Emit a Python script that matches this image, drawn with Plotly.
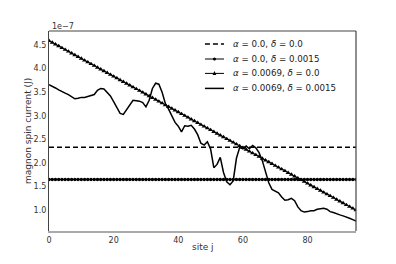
import plotly.graph_objects as go

# site index j
sites = list(range(96))

# magnon spin current, in units of 1e-7 J
current_a0_d0 = [2.335] * 96
current_a0_d15 = [1.652] * 96
current_a69_d0 = [
    4.590, 4.552, 4.514, 4.477, 4.439, 4.401, 4.363, 4.325, 4.288, 4.250,
    4.212, 4.174, 4.136, 4.099, 4.061, 4.023, 3.985, 3.947, 3.910, 3.872,
    3.834, 3.796, 3.758, 3.721, 3.683, 3.645, 3.607, 3.569, 3.532, 3.494,
    3.456, 3.418, 3.380, 3.343, 3.305, 3.267, 3.229, 3.191, 3.154, 3.116,
    3.078, 3.040, 3.002, 2.965, 2.927, 2.889, 2.851, 2.813, 2.776, 2.738,
    2.700, 2.662, 2.624, 2.587, 2.549, 2.511, 2.473, 2.435, 2.398, 2.360,
    2.322, 2.284, 2.246, 2.209, 2.171, 2.133, 2.095, 2.057, 2.020, 1.982,
    1.944, 1.906, 1.868, 1.831, 1.793, 1.755, 1.717, 1.679, 1.642, 1.604,
    1.566, 1.528, 1.490, 1.453, 1.415, 1.377, 1.339, 1.301, 1.264, 1.226,
    1.188, 1.150, 1.112, 1.075, 1.037, 0.999,
]
current_a69_d15 = [
    3.66, 3.63, 3.59, 3.55, 3.51, 3.48, 3.45, 3.40, 3.36, 3.37,
    3.39, 3.39, 3.41, 3.43, 3.45, 3.54, 3.58, 3.57, 3.50, 3.42,
    3.30, 3.17, 3.05, 3.03, 3.13, 3.24, 3.33, 3.32, 3.31, 3.28,
    3.19, 3.33, 3.58, 3.69, 3.67, 3.50, 3.26, 3.14, 3.00, 2.86,
    2.78, 2.66, 2.79, 2.78, 2.80, 2.72, 2.60, 2.42, 2.38, 2.45,
    2.30, 1.90, 1.97, 2.12, 1.80, 1.60, 1.54, 1.62, 2.10, 2.33,
    2.30, 2.36, 2.30, 2.37, 2.32, 2.22, 2.05, 1.82, 1.58, 1.44,
    1.40, 1.37, 1.28, 1.21, 1.22, 1.25, 1.20, 1.07, 0.99, 0.96,
    0.97, 0.99, 0.99, 1.02, 1.03, 1.04, 1.02, 0.97, 0.95, 0.92,
    0.90, 0.88, 0.86, 0.83, 0.80, 0.77,
]

labels = [
    "<i>α</i> = 0.0, <i>δ</i> = 0.0",
    "<i>α</i> = 0.0, <i>δ</i> = 0.0015",
    "<i>α</i> = 0.0069, <i>δ</i> = 0.0",
    "<i>α</i> = 0.0069, <i>δ</i> = 0.0015",
]

y_ticks = [1.0, 1.5, 2.0, 2.5, 3.0, 3.5, 4.0, 4.5]
x_ticks = [0, 20, 40, 60, 80]

FONT = "DejaVu Sans"

fig = go.Figure()

fig.add_trace(go.Scatter(
    x=sites, y=current_a0_d0, mode="lines", name=labels[0],
    line=dict(color="black", width=1.4, dash="5px,3px")))

fig.add_trace(go.Scatter(
    x=sites, y=current_a0_d15, mode="lines+markers", name=labels[1],
    line=dict(color="black", width=1),
    marker=dict(symbol="circle", size=3.5, color="black")))

fig.add_trace(go.Scatter(
    x=sites, y=current_a69_d0, mode="lines+markers", name=labels[2],
    line=dict(color="black", width=1),
    marker=dict(symbol="triangle-up", size=4.5, color="black")))

fig.add_trace(go.Scatter(
    x=sites, y=current_a69_d15, mode="lines", name=labels[3],
    line=dict(color="black", width=1.5)))

fig.update_layout(
    width=396, height=264,
    margin=dict(l=49, r=40, t=31, b=33),
    paper_bgcolor="white", plot_bgcolor="white",
    font=dict(family=FONT, size=8, color="#333"),
    showlegend=False,
)

fig.update_xaxes(
    range=[0, 95], tickvals=x_ticks, ticks="", showgrid=False, zeroline=False,
    showline=True, linecolor="#aaa", linewidth=2, automargin=False,
)
fig.update_yaxes(
    range=[0.559, 4.797], tickvals=y_ticks, tickformat=".1f", ticks="",
    showgrid=False, zeroline=False, automargin=False,
    showline=True, linecolor="#444", linewidth=1.2,
)

# top and right frame lines
fig.add_shape(type="line", xref="paper", yref="paper", x0=0, x1=1, y0=1, y1=1,
              line=dict(color="#444", width=1.2))
fig.add_shape(type="line", xref="paper", yref="paper", x0=1, x1=1, y0=0, y1=1,
              line=dict(color="#444", width=1.2))

# axis titles
fig.add_annotation(text="site j", xref="paper", yref="paper", x=0.5, y=0,
                   yshift=-16, showarrow=False, yanchor="middle",
                   font=dict(size=9, color="#333"))
fig.add_annotation(text="magnon spin current (J)", xref="paper", yref="paper",
                   x=0, y=0.5, xshift=-21, textangle=-90, showarrow=False,
                   xanchor="center", font=dict(size=9, color="#333"))

# offset text for the y axis
fig.add_annotation(text="1e\u22127", xref="paper", yref="paper", x=0, y=1,
                   xanchor="left", yanchor="bottom", showarrow=False,
                   font=dict(size=8, color="#333"), xshift=1, yshift=-2)

# legend drawn by hand (matplotlib spacing)
leg_x0, leg_x1, leg_tx = 0.508, 0.570, 0.593
leg_rows = [0.935, 0.86, 0.788, 0.713]
leg_dash = ["5px,3px", "solid", "solid", "solid"]
leg_w = [1.4, 1.0, 1.0, 1.5]
for lab, ry, dsh, w in zip(labels, leg_rows, leg_dash, leg_w):
    fig.add_shape(type="line", xref="paper", yref="paper",
                  x0=leg_x0, x1=leg_x1, y0=ry, y1=ry,
                  line=dict(color="black", width=w, dash=dsh))
    fig.add_annotation(text=lab, xref="paper", yref="paper", x=leg_tx, y=ry,
                       xanchor="left", yanchor="middle", showarrow=False,
                       font=dict(size=8.7, color="#222"))
xm = (leg_x0 + leg_x1) / 2
dx, dy = 0.005, 0.008
fig.add_shape(type="circle", xref="paper", yref="paper",
              x0=xm - dx, x1=xm + dx, y0=leg_rows[1] - dy, y1=leg_rows[1] + dy,
              fillcolor="black", line=dict(width=0))
fig.add_shape(type="path", xref="paper", yref="paper",
              path=f"M {xm - 0.006} {leg_rows[2] - 0.008} L {xm + 0.006} {leg_rows[2] - 0.008} L {xm} {leg_rows[2] + 0.012} Z",
              fillcolor="black", line=dict(width=0))

fig.write_html("out.html", config={"displayModeBar": False},
               post_script="document.body.style.margin='0';")
